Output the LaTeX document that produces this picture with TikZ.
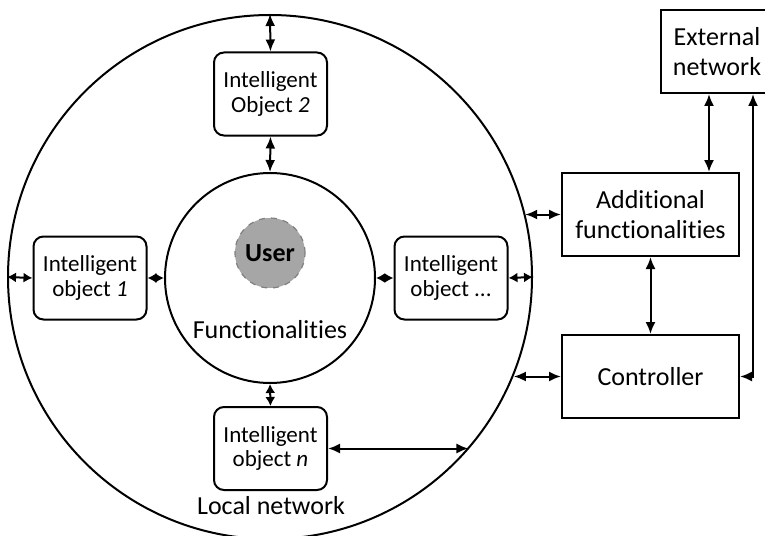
\documentclass[tikz,border=0pt]{standalone}
\usepackage{fontspec}
\setmainfont{Carlito}[Ligatures=NoCommon]
\usepackage{xcolor}
\usetikzlibrary{arrows.meta}
\definecolor{usergray}{HTML}{A6A6A6}
\definecolor{userrim}{HTML}{7F7F7F}

\begin{document}
\begin{tikzpicture}[x=0.5pt,y=-0.5pt,line width=1pt,
  obj/.style={draw,rounded corners=5pt,minimum width=56.5pt,minimum height=41.5pt,align=center,inner sep=1pt,font=\fontsize{11.5}{12.4}\selectfont},
  blk/.style={draw,minimum width=88.5pt,minimum height=41.5pt,align=center,inner sep=1pt,font=\fontsize{13}{15}\selectfont},
  biarrow/.style={{Latex[length=6pt,width=5pt]}-{Latex[length=6pt,width=5pt]}},
  shortarrow/.style={{Latex[length=4.5pt,width=5pt]}-{Latex[length=4.5pt,width=5pt]}},
  big/.style={font=\fontsize{13}{15}\selectfont}]
\useasboundingbox (0,0) rectangle (765,535);
\node[draw,circle,minimum size=262pt,inner sep=0pt] (outer) at (270,277) {};
\node[draw,circle,minimum size=105pt,inner sep=0pt] (inner) at (270,278) {};
\node[circle,draw=userrim,dashed,line width=0.6pt,fill=usergray,minimum size=35pt,inner sep=0pt,font=\fontsize{13}{15}\selectfont\bfseries] (user) at (270,253) {User};
\node[big] (func) at (270,330) {Functionalities};
\node[obj] (obj2) at (270.5,94) {Intelligent\\Object \textit{2}};
\node[obj] (obj1) at (90,278) {Intelligent\\object \textit{1}};
\node[obj] (objx) at (451,278) {Intelligent\\object ...};
\node[obj] (objn) at (270.5,448.5) {Intelligent\\object \textit{n}};
\node[big] (local) at (271,506) {Local network};
\node[blk,minimum width=56pt] (ext) at (717,51.5) {External\\network};
\node[blk] (add) at (650.5,214.5) {Additional\\functionalities};
\node[blk] (ctrl) at (650.5,376.5) {Controller};
\draw[biarrow] (outer.north) -- (obj2.north);
\draw[biarrow] (obj2.south) -- (inner.north);
\draw[shortarrow] (outer.west) -- (obj1.west);
\draw[shortarrow] (obj1.east) -- (inner.west);
\draw[shortarrow] (inner.east) -- (objx.west);
\draw[shortarrow] (objx.east) -- (outer.east);
\draw[shortarrow] (inner.south) -- (objn.north);
\draw[biarrow] (objn.east) -- (outer.-41 |- objn.east);
\draw[biarrow] (add.west) -- (outer.14 |- add.west);
\draw[biarrow] (ctrl.west) -- (outer.-22 |- ctrl.west);
\draw[biarrow] (709,0 |- ext.south) -- (709,0 |- add.north);
\draw[biarrow] (add.south) -- (ctrl.north);
\draw[biarrow] (753,0 |- ext.south) |- (ctrl.east);
\end{tikzpicture}
\end{document}
